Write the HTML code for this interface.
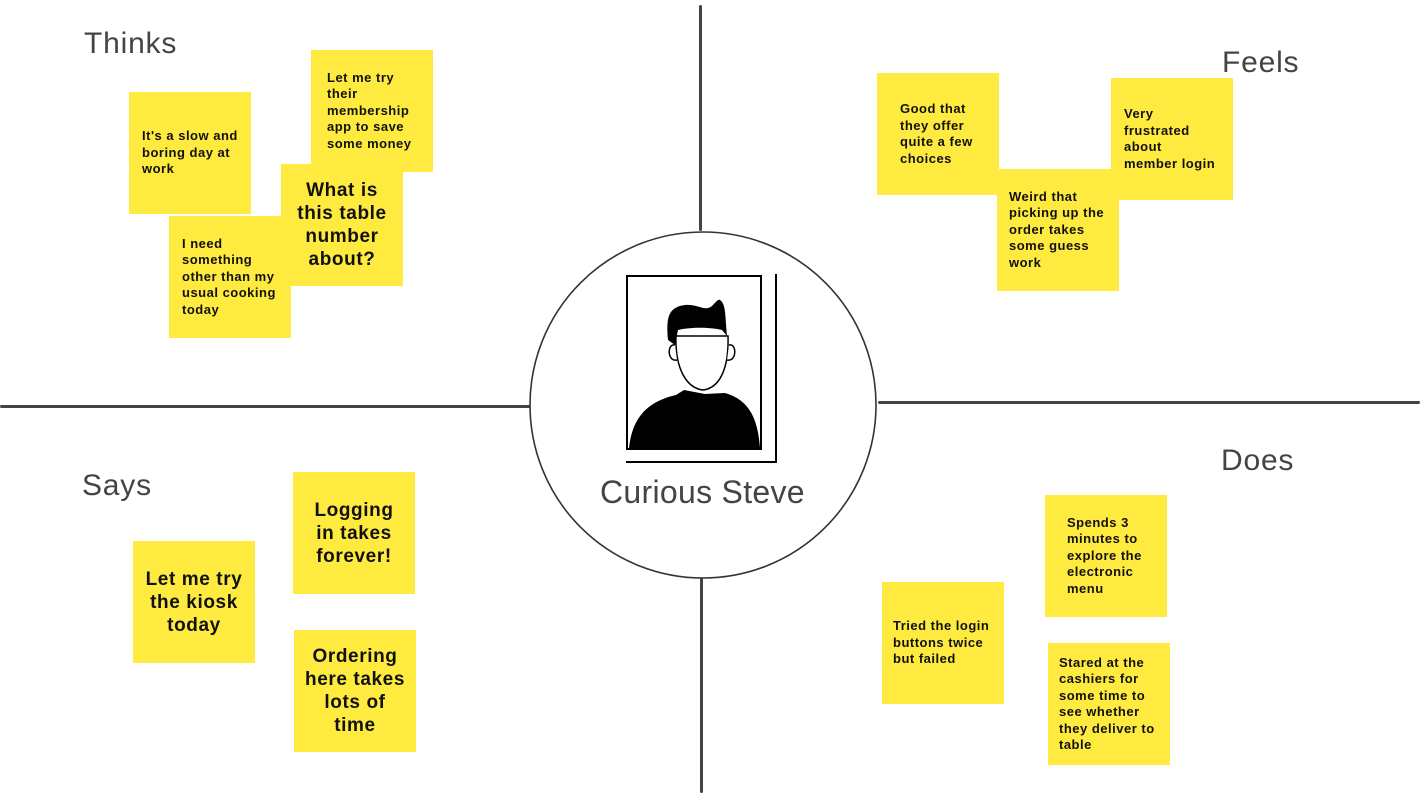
<!DOCTYPE html>
<html><head><meta charset="utf-8"><style>
html,body{margin:0;padding:0;background:#fff;}
body{width:1422px;height:800px;position:relative;overflow:hidden;font-family:"Liberation Sans",sans-serif;}
.n{position:absolute;width:122px;height:122px;background:#ffea3f;box-sizing:border-box;display:flex;align-items:center;color:#111;font-weight:bold;font-size:13px;line-height:16.5px;padding-left:13px;letter-spacing:0.5px;white-space:nowrap;}
.b{justify-content:center;padding-left:0;text-align:center;font-size:19px;line-height:23px;letter-spacing:0.6px;}
.l{position:absolute;font-size:30px;color:#444;letter-spacing:0.8px;}
.ln{position:absolute;background:#444;border-radius:2px;}
</style></head><body>
<div class="ln" style="left:699px;top:5px;width:3px;height:226px"></div>
<div class="ln" style="left:700px;top:573px;width:3px;height:220px"></div>
<div class="ln" style="left:0;top:405px;width:533px;height:3px"></div>
<div class="ln" style="left:878px;top:401px;width:542px;height:3px"></div>
<svg style="position:absolute;left:0;top:0" width="1422" height="800">
<circle cx="703" cy="405" r="173" fill="#fff" stroke="#333" stroke-width="1.6"/>
<rect x="627" y="276" width="134" height="173" fill="#fff" stroke="#000" stroke-width="2"/>
<path d="M776 274 V462 H626" fill="none" stroke="#000" stroke-width="2"/>
<path d="M629 448 C632 420 645 402 676 395 L684 390 L705 394 L725 393 C750 400 758 420 760 448 Z" fill="#000"/>
<path d="M676 336 C675 368 686 388 703 390 C720 388 729 368 728 336 Z" fill="#fff" stroke="#000" stroke-width="1.5"/>
<path d="M675 345 C667 343 667 362 677 360 M729 345 C737 343 737 362 727 360" fill="#fff" stroke="#000" stroke-width="1.5"/>
<path d="M668 340 C666 318 668 307 685 305 C698 304 705 312 712 306 C716 302 718 299 720 300 C726 304 725 315 727 336 L722 330 C710 327 690 327 678 330 L675 345 Z" fill="#000"/>
</svg>
<div class="l" style="left:84px;top:27px">Thinks</div>
<div class="l" style="left:1222px;top:46px">Feels</div>
<div class="l" style="left:82px;top:469px">Says</div>
<div class="l" style="left:1221px;top:444px">Does</div>
<div class="l" style="left:600px;top:474px;font-size:32px;letter-spacing:0.3px">Curious Steve</div>

<div class="n" style="left:129px;top:92px">It's a slow and<br>boring day at<br>work</div>
<div class="n" style="left:311px;top:50px;padding-left:16px">Let me try<br>their<br>membership<br>app to save<br>some money</div>
<div class="n b" style="left:281px;top:164px">What is<br>this table<br>number<br>about?</div>
<div class="n" style="left:169px;top:216px">I need<br>something<br>other than my<br>usual cooking<br>today</div>

<div class="n" style="left:877px;top:73px;padding-left:23px">Good that<br>they offer<br>quite a few<br>choices</div>
<div class="n" style="left:1111px;top:78px">Very<br>frustrated<br>about<br>member login</div>
<div class="n" style="left:997px;top:169px;padding-left:12px">Weird that<br>picking up the<br>order takes<br>some guess<br>work</div>

<div class="n b" style="left:133px;top:541px">Let me try<br>the kiosk<br>today</div>
<div class="n b" style="left:293px;top:472px">Logging<br>in takes<br>forever!</div>
<div class="n b" style="left:294px;top:630px">Ordering<br>here takes<br>lots of<br>time</div>

<div class="n" style="left:1045px;top:495px;padding-left:22px">Spends 3<br>minutes to<br>explore the<br>electronic<br>menu</div>
<div class="n" style="left:882px;top:582px;padding-left:11px">Tried the login<br>buttons twice<br>but failed</div>
<div class="n" style="left:1048px;top:643px;padding-left:11px">Stared at the<br>cashiers for<br>some time to<br>see whether<br>they deliver to<br>table</div>
</body></html>
